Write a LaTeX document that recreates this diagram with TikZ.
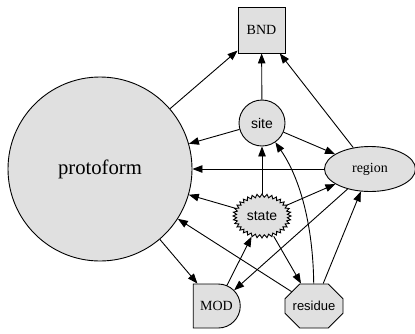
\documentclass[tikz,border=0pt]{standalone}
\usepackage{fontspec}
\setmainfont{Liberation Serif}
\newfontfamily\helv{Liberation Sans}
\usetikzlibrary{arrows.meta,shapes.geometric,shapes.misc}
\definecolor{nodefill}{HTML}{E0E0E0}
\tikzset{
  base/.style={draw=black, line width=0.9pt, fill=nodefill, inner sep=0pt},
  serif/.style={font=\fontsize{14}{16}\selectfont},
  sans/.style={font=\helv\fontsize{14}{16}\selectfont},
  arr/.style={line width=0.9pt, -{Triangle[length=10pt,width=7.5pt]}},
}
\begin{document}
\begin{tikzpicture}[x=1pt,y=-1pt]
\useasboundingbox (0,0) rectangle (415,333);
% nodes
\node[base, circle, minimum size=184pt, font=\fontsize{20.7}{24}\selectfont] (protoform) at (100,169) {protoform};
\node[base, rectangle, minimum width=47pt, minimum height=46pt, serif] (BND) at (261.5,30) {BND};
\node[base, circle, minimum size=46pt, sans] (site) at (262,123) {site};
\node[base, ellipse, minimum width=91pt, minimum height=45pt, serif] (region) at (370,169) {region};
% starburst outline
\draw[base] (262+29,216)
  \foreach \i in {0,...,35} { -- ({262+29*cos(10*\i)},{216+22*sin(10*\i)}) -- ({262+25.5*cos(10*\i+5)},{216+18.8*sin(10*\i+5)}) } -- cycle;
\node[ellipse, minimum width=57pt, minimum height=44pt, inner sep=0pt, sans] (state) at (262,216) {state};
\node[base, rounded rectangle, rounded rectangle left arc=none, minimum width=47pt, minimum height=44pt, serif] (MOD) at (216.5,306) {MOD};
\node[base, chamfered rectangle, chamfered rectangle xsep=12pt, chamfered rectangle ysep=10pt, minimum width=58pt, minimum height=44pt, font=\helv\fontsize{13}{15}\selectfont] (residue) at (314,306) {residue};
% edges
\draw[arr] (protoform) -- (BND);
\draw[arr] (site) -- (BND);
\draw[arr] (region) -- (BND);
\draw[arr] (site) -- (protoform);
\draw[arr] (site) -- (region);
\draw[arr] (region) -- (protoform);
\draw[arr] (state) -- (site);
\draw[arr] (state) -- (protoform);
\draw[arr] (state) -- (region);
\draw[arr] (state) -- (residue);
\draw[arr] (residue) .. controls (313,225) and (300,178) .. (site);
\draw[arr] (residue) -- (protoform);
\draw[arr] (residue) -- (region);
\draw[arr] (MOD) -- (state);
\draw[arr] (region) -- (MOD);
\draw[arr] (protoform) -- (MOD);
\end{tikzpicture}
\end{document}
